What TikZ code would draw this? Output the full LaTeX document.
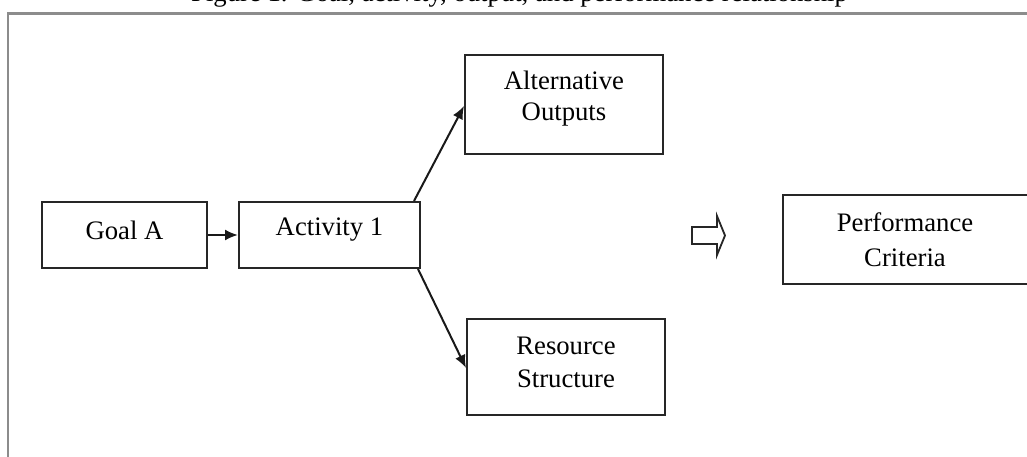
\documentclass[tikz,border=0pt]{standalone}
\usepackage{fontspec}
\setmainfont{Liberation Serif}
\usetikzlibrary{arrows.meta}
\begin{document}
\begin{tikzpicture}[x=1pt,y=-1pt,
  every node/.style={font=\fontsize{26.7}{33}\selectfont},
  box/.style={draw=black!85, line width=2pt, inner sep=0pt},
  lbl/.style={align=center, inner sep=0pt},
  link/.style={draw=black!90, line width=2pt, -{Latex[length=13pt,width=11pt]}},
  frameline/.style={draw=black!45, line width=2.4pt}]
  \useasboundingbox (0,0) rectangle (1027,457);
  % caption, mostly above the page edge
  \node[anchor=base west, inner sep=0pt] (cap) at (191,2)
    {Figure 1. Goal, activity, output, and performance relationship};
  % outer frame
  \coordinate (fbl) at (8,460);
  \coordinate (ftl) at (8,13.5);
  \coordinate (ftr) at (1030,13.5);
  \draw[frameline] (fbl) -- (ftl) -- (ftr);
  % boxes
  \node[box, minimum width=165pt, minimum height=66pt] (goal) at (124.5,235) {};
  \node[box, minimum width=181pt, minimum height=66pt] (act) at (329.5,235) {};
  \node[box, minimum width=198pt, minimum height=99pt] (alt) at (564,104.5) {};
  \node[box, minimum width=198pt, minimum height=96pt] (res) at (566,367) {};
  \node[inner sep=0pt, minimum width=244pt, minimum height=89pt] (perf) at (905,239.5) {};
  \draw[box] (perf.north west) rectangle ([xshift=30pt]perf.south east);
  % box texts
  \node[lbl] (goalt) at ([yshift=5pt]goal.center) {Goal A};
  \node[lbl] (actt) at ([yshift=5pt]act.center) {Activity 1};
  \node[lbl, font=\fontsize{26.7}{31}\selectfont] (altt) at ([yshift=6pt]alt.center) {Alternative\\Outputs};
  \node[lbl] (rest) at ([yshift=5pt]res.center) {Resource\\Structure};
  \node[lbl, font=\fontsize{26.7}{35}\selectfont] (perft) at (perf.center) {Performance\\Criteria};
  % connectors
  \draw[link] (goal.east) -- (act.west);
  \draw[link] ([xshift=-7pt]act.north east) -- ([yshift=-1.5pt]alt.west);
  \draw[link] ([xshift=-3pt]act.south east) -- ([yshift=-1pt]res.west);
  % hollow block arrow
  \draw[draw=black!85, line width=1.8pt, line join=miter]
    (692,227) -- (717,227) -- (717,216) -- (725,235.5) -- (717,255) -- (717,244) -- (692,244) -- cycle;
\end{tikzpicture}
\end{document}
